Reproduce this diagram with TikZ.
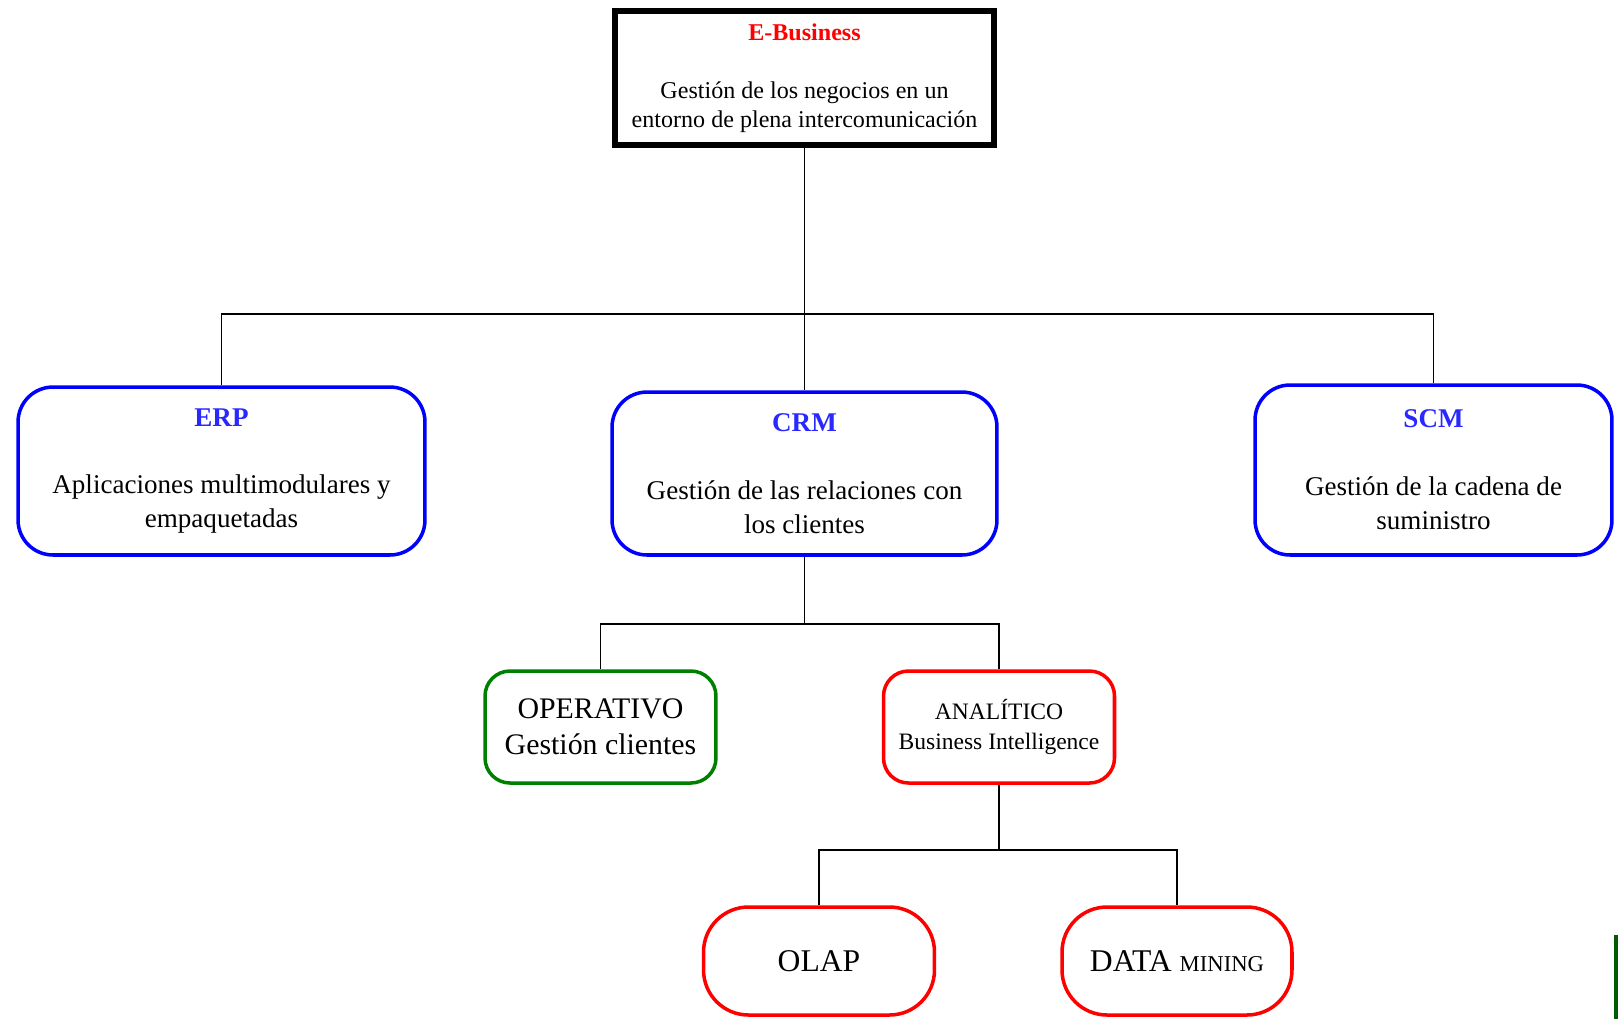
\documentclass[tikz,border=0pt]{standalone}
\usepackage{fontspec}
\setmainfont{Liberation Serif}
\usetikzlibrary{positioning}
\definecolor{dkgreen}{RGB}{0,128,0}
\definecolor{ttlblue}{RGB}{40,40,255}

\begin{document}
\begin{tikzpicture}[x=0.02cm, y=-0.02cm]
	\tikzset{lnk/.style={line width=1.1pt},
		top/.style={draw, line width=3.4pt, align=center, inner sep=2pt, minimum width=7.6cm, minimum height=2.68cm, font=\fontsize{13.7}{16.5}\selectfont},
		blu/.style={draw=blue, line width=2pt, rounded corners=0.7cm, align=center, inner sep=2pt, font=\fontsize{15.4}{19.3}\selectfont},
		sub/.style={line width=2pt, rounded corners=0.5cm, align=center, inner sep=2pt, minimum width=4.62cm, minimum height=2.24cm},
		leaf/.style={draw=red, line width=2pt, rounded corners=0.9cm, align=center, minimum width=4.62cm, minimum height=2.16cm, font=\fontsize{18}{20}\selectfont}}

	\useasboundingbox (0,0) rectangle (1618,1019);

	\node[top] (eb) at (804.5,78) {\textcolor{red}{\textbf{E-Business}}\\[16.5pt]Gestión de los negocios en un\\entorno de plena intercomunicación};

	\node[blu, minimum width=8.14cm, minimum height=3.36cm] (erp) at (221.5,471) {\textcolor{ttlblue}{\textbf{ERP}}\\[19.3pt]Aplicaciones multimodulares y\\empaquetadas};
	\node[blu, minimum width=7.7cm, minimum height=3.26cm] (crm) at (804.5,473.5) {\textcolor{ttlblue}{\textbf{CRM}}\\[19.3pt]Gestión de las relaciones con\\los clientes};
	\node[blu, minimum width=7.14cm, minimum height=3.4cm] (scm) at (1433.5,470) {\textcolor{ttlblue}{\textbf{SCM}}\\[19.3pt]Gestión de la cadena de\\suministro};

	\node[sub, draw=dkgreen, font=\fontsize{17}{20.5}\selectfont] (op) at (600.5,727) {OPERATIVO\\Gestión clientes};
	\node[sub, draw=red, font=\fontsize{13.4}{17}\selectfont] (an) at (999,727) {ANALÍTICO\\Business Intelligence};

	\node[leaf] (olap) at (819,961) {OLAP};
	\node[leaf, minimum width=4.6cm] (dm) at (1177,961) {DATA {\fontsize{12.9}{14}\selectfont MINING}};

	\coordinate (j1) at (804.5,314);
	\coordinate (j2) at (804.5,624);
	\coordinate (j3) at (999,850);

	\draw[lnk] (eb.south) -- (crm.north);
	\draw[lnk] (j1) -| (erp.north);
	\draw[lnk] (j1) -| (scm.north);
	\draw[lnk] (crm.south) -- (j2) -| (op.north);
	\draw[lnk] (j2) -| (an.north);
	\draw[lnk] (an.south) -- (j3) -| (olap.north);
	\draw[lnk] (j3) -| (dm.north);

	\fill[dkgreen!70!black] (1614,935) rectangle (1618,1019);
\end{tikzpicture}
\end{document}
